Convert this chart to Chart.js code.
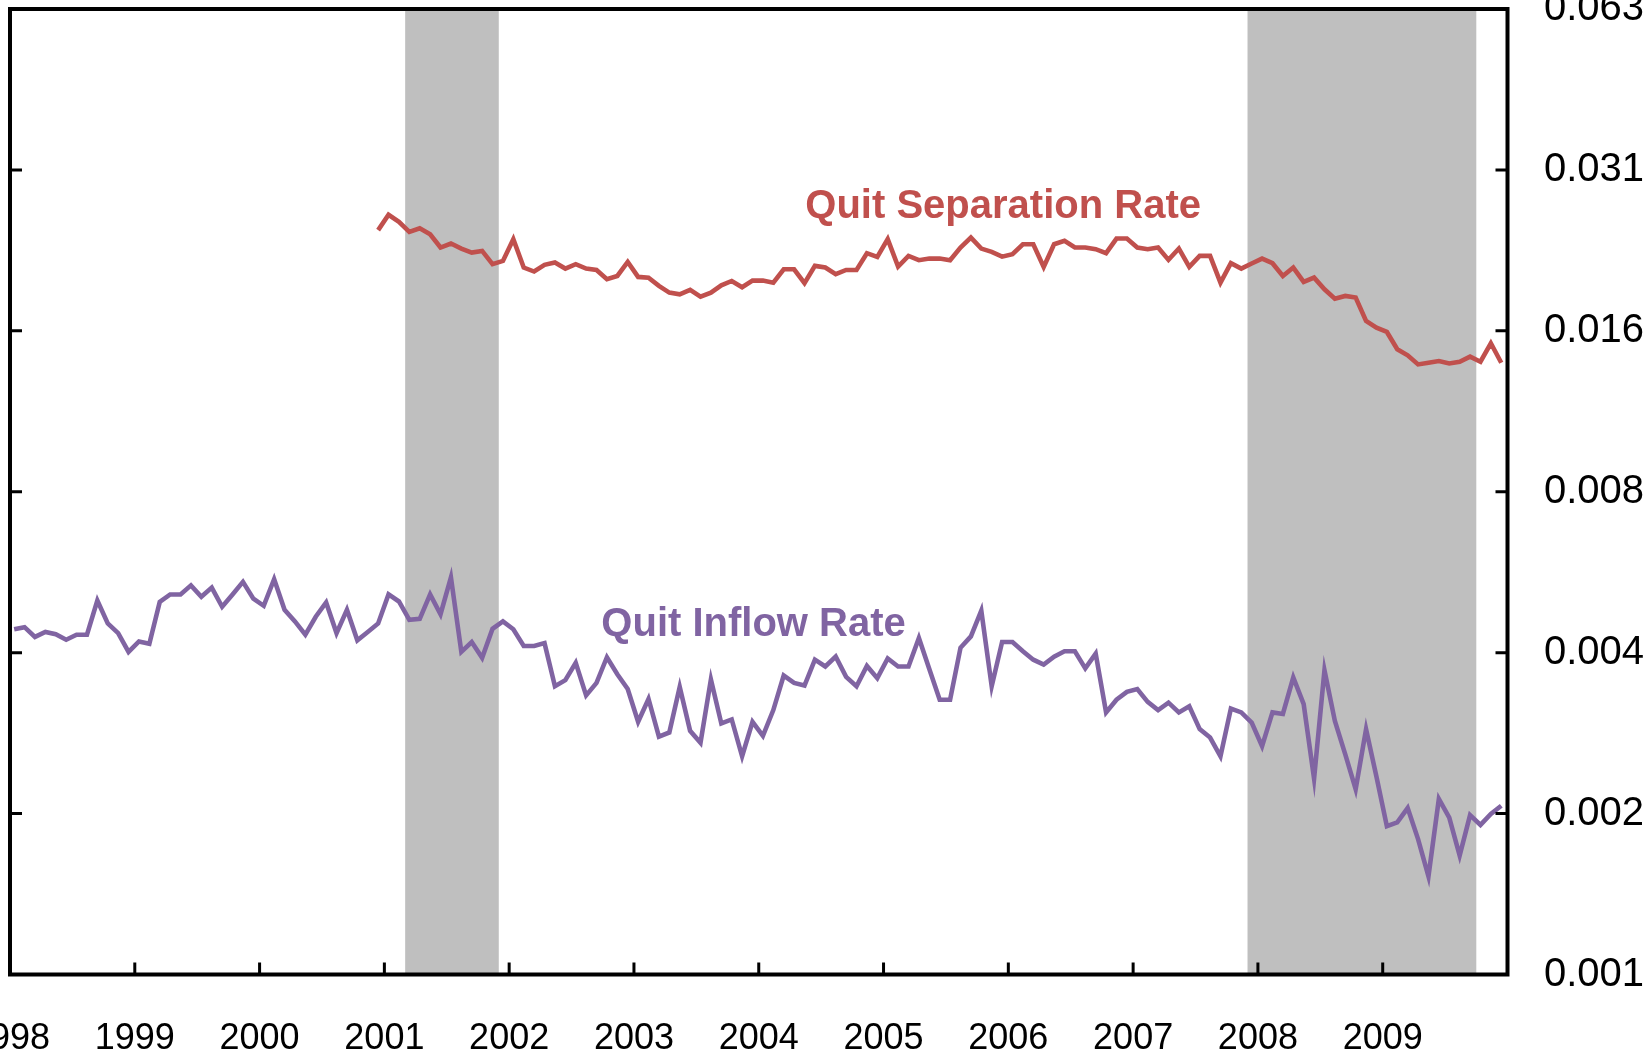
<!DOCTYPE html>
<html>
<head>
<meta charset="utf-8">
<script src="https://cdn.jsdelivr.net/npm/chart.js@4.4.1/dist/chart.umd.min.js"></script>
<style>
html,body{margin:0;padding:0;background:#ffffff;overflow:hidden}
canvas{display:block}
</style>
</head>
<body>
<canvas id="chart" width="1652" height="1052" style="width:1652px;height:1052px"></canvas>
<script>
// ---------------- DATA ----------------
// x axis: months from Jan 1998 (index 0) to Dec 2009 (index 143)
const yearLabels = ['1998','1999','2000','2001','2002','2003','2004','2005','2006','2007','2008','2009'];

// Quit Inflow Rate, monthly, Jan 1998 - Dec 2009
const quitInflowRate = [
  0.00432,0.00436,0.00418,0.00427,0.00423,0.00413,0.00422,0.00422,0.00489,0.00443,0.00425,0.00392,
  0.00410,0.00406,0.00486,0.00502,0.00502,0.00522,0.00497,0.00517,0.00476,0.00502,0.00530,0.00493,
  0.00478,0.00536,0.00470,0.00447,0.00422,0.00456,0.00485,0.00425,0.00470,0.00412,0.00427,0.00443,
  0.00502,0.00487,0.00450,0.00452,0.00502,0.00461,0.00540,0.00392,0.00409,0.00382,0.00433,0.00447,
  0.00432,0.00402,0.00402,0.00407,0.00338,0.00347,0.00374,0.00325,0.00343,0.00383,0.00356,0.00334,
  0.00290,0.00320,0.00272,0.00277,0.00337,0.00279,0.00265,0.00348,0.00288,0.00293,0.00250,0.00290,
  0.00273,0.00305,0.00354,0.00343,0.00339,0.00379,0.00368,0.00384,0.00352,0.00338,0.00369,0.00350,
  0.00381,0.00368,0.00368,0.00416,0.00364,0.00319,0.00319,0.00399,0.00419,0.00468,0.00338,0.00409,
  0.00409,0.00393,0.00379,0.00371,0.00384,0.00393,0.00393,0.00365,0.00389,0.00302,0.00319,0.00330,
  0.00334,0.00316,0.00305,0.00315,0.00302,0.00310,0.00281,0.00271,0.00250,0.00307,0.00302,0.00289,
  0.00261,0.00302,0.00300,0.00351,0.00313,0.00227,0.00362,0.00291,0.00252,0.00217,0.00281,0.00229,
  0.00185,0.00188,0.00200,0.00175,0.00149,0.00208,0.00192,0.00163,0.00194,0.00186,0.00195,0.00202
];

// Quit Separation Rate, monthly, Dec 2000 - Dec 2009
const separationStartIndex = 35; // Dec 2000
const quitSeparationRate = [
  0.02411,
  0.02576,0.02499,0.02393,0.02431,0.02369,0.02237,0.02276,0.02227,0.02189,0.02205,0.02082,0.02112,
  0.02319,0.02052,0.02017,0.02076,0.02097,0.02043,0.02082,0.02043,0.02031,0.01951,0.01979,0.02103,
  0.01971,0.01965,0.01896,0.01842,0.01829,0.01864,0.01811,0.01842,0.01901,0.01937,0.01885,0.01940,
  0.01940,0.01923,0.02037,0.02037,0.01918,0.02067,0.02052,0.01994,0.02031,0.02031,0.02183,0.02148,
  0.02319,0.02061,0.02158,0.02118,0.02133,0.02133,0.02118,0.02237,0.02335,0.02227,0.02195,0.02151,
  0.02173,0.02269,0.02269,0.02058,0.02269,0.02302,0.02237,0.02237,0.02221,0.02183,0.02325,0.02325,
  0.02237,0.02221,0.02237,0.02121,0.02227,0.02058,0.02158,0.02158,0.01923,0.02091,0.02043,0.02088,
  0.02133,0.02091,0.01979,0.02052,0.01929,0.01965,0.01869,0.01795,0.01816,0.01803,0.01630,0.01584,
  0.01555,0.01443,0.01406,0.01352,0.01362,0.01372,0.01358,0.01368,0.01398,0.01368,0.01481,0.01362
];

// Recession periods (month index from Jan 1998): start, end
const recessions = [[38, 47], [119, 141]];

// Right axis (log scale) ticks
const yTickValues = [0.0009765625, 0.001953125, 0.00390625, 0.0078125, 0.015625, 0.03125, 0.0625];
const yTickLabels = ['0.001', '0.002', '0.004', '0.008', '0.016', '0.031', '0.063'];

const seriesNames = ['Quit Separation Rate', 'Quit Inflow Rate'];

// ---------------- STYLE ----------------
const FONT = "'Liberation Sans', Arial, Helvetica, sans-serif";
const COLOR_SEP = '#C0504D';
const COLOR_INF = '#8064A2';
const COLOR_SHADE = '#BFBFBF';
const pointOffset = 0.4;

Chart.defaults.font.family = FONT;
Chart.defaults.color = '#000000';

const sepPoints = quitSeparationRate.map((v, i) => ({ x: separationStartIndex + i + pointOffset, y: v }));
const infPoints = quitInflowRate.map((v, i) => ({ x: i + pointOffset, y: v }));

const decorations = {
  id: 'decorations',
  beforeDatasetsDraw(chart) {
    const { ctx, chartArea: { top, bottom }, scales: { x } } = chart;
    ctx.save();
    ctx.fillStyle = COLOR_SHADE;
    recessions.forEach(([s, e]) => {
      const x1 = x.getPixelForValue(s);
      const x2 = x.getPixelForValue(e);
      ctx.fillRect(x1, top, x2 - x1, bottom - top);
    });
    ctx.restore();
  },
  afterDatasetsDraw(chart) {
    const { ctx, chartArea: { left, right, top, bottom }, scales: { x, y } } = chart;
    ctx.save();
    ctx.strokeStyle = '#000000';
    ctx.lineWidth = 4;
    ctx.lineCap = 'square';
    ctx.strokeRect(left, top, right - left, bottom - top);
    ctx.lineWidth = 3;
    ctx.lineCap = 'butt';
    const tl = 12;
    ctx.beginPath();
    y.ticks.forEach(t => {
      const py = y.getPixelForValue(t.value);
      if (py <= top + 1 || py >= bottom - 1) return;
      ctx.moveTo(left, py); ctx.lineTo(left + tl, py);
      ctx.moveTo(right, py); ctx.lineTo(right - tl, py);
    });
    x.ticks.forEach(t => {
      const px = x.getPixelForValue(t.value);
      if (px <= left + 1 || px >= right - 1) return;
      ctx.moveTo(px, bottom); ctx.lineTo(px, bottom - tl);
    });
    ctx.stroke();

    // series labels
    ctx.font = 'bold 40px ' + FONT;
    ctx.textAlign = 'center';
    ctx.textBaseline = 'alphabetic';
    ctx.fillStyle = COLOR_SEP;
    ctx.fillText(seriesNames[0], x.getPixelForValue(95.5), y.getPixelForValue(0.02535));
    ctx.fillStyle = COLOR_INF;
    ctx.fillText(seriesNames[1], x.getPixelForValue(71.5), y.getPixelForValue(0.004196));
    ctx.restore();
  }
};

new Chart(document.getElementById('chart'), {
  type: 'line',
  data: {
    datasets: [
      { label: seriesNames[0], data: sepPoints, borderColor: COLOR_SEP, borderWidth: 4.6,
        pointRadius: 0, tension: 0, fill: false, borderJoinStyle: 'miter' },
      { label: seriesNames[1], data: infPoints, borderColor: COLOR_INF, borderWidth: 4.6,
        pointRadius: 0, tension: 0, fill: false, borderJoinStyle: 'miter' }
    ]
  },
  options: {
    responsive: false,
    animation: false,
    devicePixelRatio: 1,
    layout: { padding: { left: 10, top: 9, right: 0, bottom: 0 } },
    plugins: { legend: { display: false }, tooltip: { enabled: false } },
    scales: {
      x: {
        type: 'linear',
        position: 'bottom',
        min: 0,
        max: 144,
        grid: { display: false },
        border: { display: false },
        afterBuildTicks: (scale) => { scale.ticks = yearLabels.map((_, i) => ({ value: i * 12 })); },
        afterFit: (scale) => { scale.height = 77.5; scale.paddingLeft = 0; scale.paddingRight = 0; },
        ticks: {
          autoSkip: false, maxRotation: 0, minRotation: 0, padding: 35,
          font: { size: 36 }, color: '#000000',
          callback: (v, i) => yearLabels[i]
        }
      },
      y: {
        type: 'logarithmic',
        position: 'right',
        min: yTickValues[0],
        max: yTickValues[yTickValues.length - 1],
        grid: { display: false },
        border: { display: false },
        afterBuildTicks: (scale) => { scale.ticks = yTickValues.map(v => ({ value: v })); },
        afterFit: (scale) => { scale.width = 144.5; scale.paddingTop = 0; scale.paddingBottom = 0; },
        ticks: {
          autoSkip: false, padding: 28.5,
          font: { size: 40 }, color: '#000000',
          callback: (v, i) => yTickLabels[i]
        }
      }
    }
  },
  plugins: [decorations]
});
</script>
</body>
</html>
